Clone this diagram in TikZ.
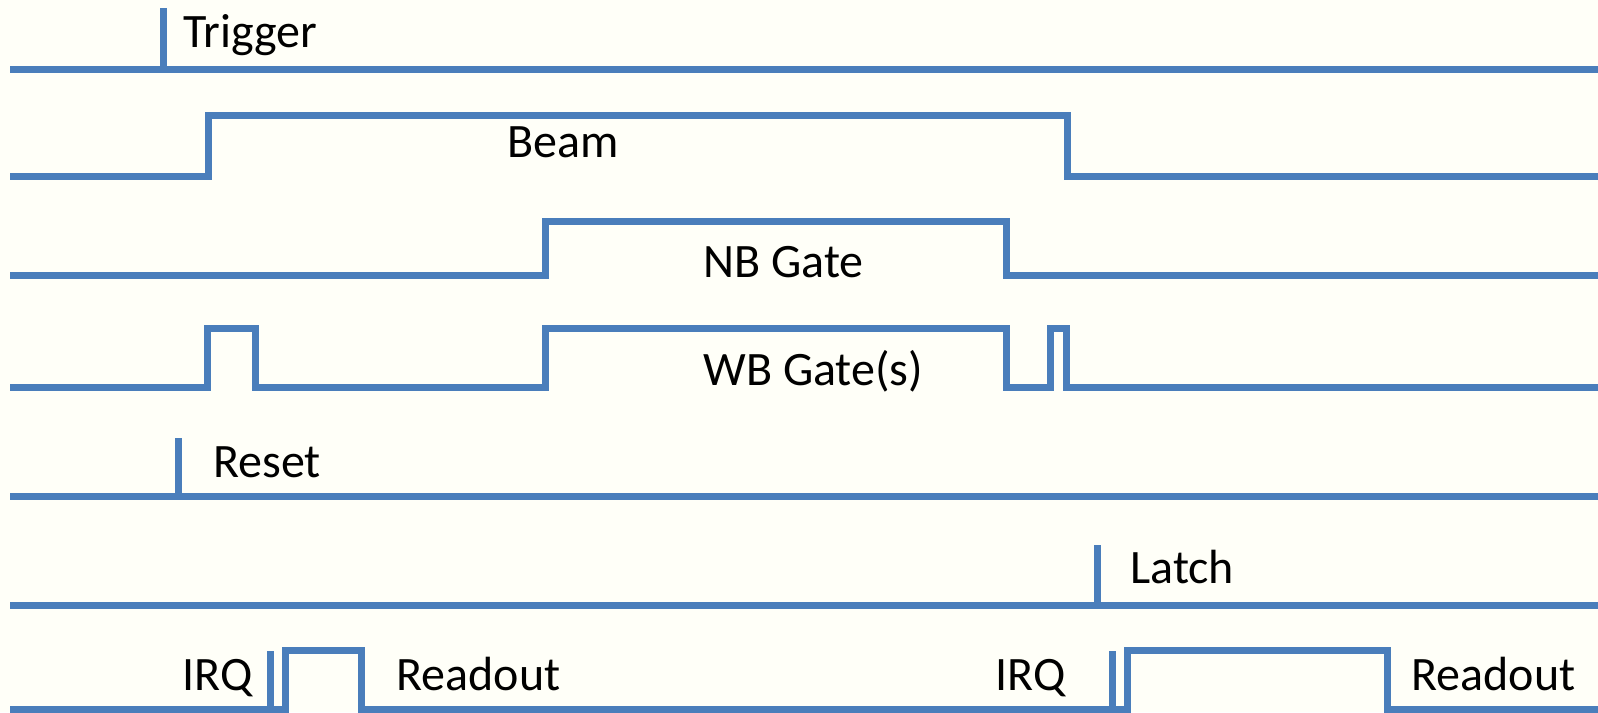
\documentclass[tikz,border=0pt]{standalone}
\usepackage{fontspec}
\setmainfont{Carlito}
\definecolor{sigblue}{HTML}{4A7EBB}
\definecolor{paper}{HTML}{FFFFF8}

\begin{document}
\begin{tikzpicture}[x=0.5pt, y=-0.5pt,
		sig/.style={draw=sigblue, line width=3.5pt, line join=miter},
		lbl/.style={anchor=base west, inner sep=0pt, font=\fontsize{24}{24}\selectfont}]
		\fill[paper] (0,0) rectangle (1598,712);
		\useasboundingbox (0,0) rectangle (1598,712);

		% トリガ
		\draw[sig] (10,69) -- (1598,69);
		\draw[sig] (163,69) -- (163,8);
		\node[lbl] (trig) at (183,47) {Trigger};

		% ビーム
		\draw[sig] (10,176) -- (208,176) -- (208,115) -- (1067,115) -- (1067,176) -- (1598,176);
		\node[lbl] (beam) at (507,157) {Beam};

		% NBゲート
		\draw[sig] (10,275) -- (545,275) -- (545,221) -- (1006,221) -- (1006,275) -- (1598,275);
		\node[lbl] (nb) at (703,277) {NB Gate};

		% WBゲート
		\draw[sig] (10,387) -- (207,387) -- (207,328) -- (255,328) -- (255,387)
			-- (545,387) -- (545,328) -- (1006,328) -- (1006,387)
			-- (1050,387) -- (1050,328) -- (1066,328) -- (1066,387) -- (1598,387);
		\node[lbl] (wb) at (703,385) {WB Gate(s)};

		% リセット
		\draw[sig] (10,496) -- (1598,496);
		\draw[sig] (178,496) -- (178,438);
		\node[lbl] (reset) at (213,477) {Reset};

		% ラッチ
		\draw[sig] (10,605) -- (1598,605);
		\draw[sig] (1097,605) -- (1097,545);
		\node[lbl] (latch) at (1130,583) {Latch};

		% 割り込みと読み出し
		\draw[sig] (10,709) -- (285,709) -- (285,650) -- (361,650) -- (361,709)
			-- (1127,709) -- (1127,650) -- (1387,650) -- (1387,709) -- (1598,709);
		\draw[sig] (270,709) -- (270,651);
		\draw[sig] (1112,709) -- (1112,651);
		\node[lbl] (irqA) at (182,690) {IRQ};
		\node[lbl] (readA) at (396,690) {Readout};
		\node[lbl] (irqB) at (995,690) {IRQ};
		\node[lbl] (readB) at (1411,690) {Readout};
	\end{tikzpicture}
\end{document}
